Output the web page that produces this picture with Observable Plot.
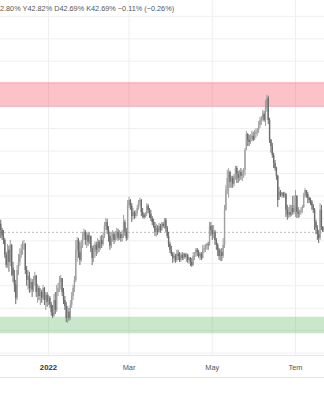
<!DOCTYPE html>
<html><head><meta charset="utf-8">
<script src="https://cdn.jsdelivr.net/npm/d3@7"></script>
<script src="https://cdn.jsdelivr.net/npm/@observablehq/plot@0.6"></script>
<style>
html,body{margin:0;padding:0;background:#fff;}
#wrap{position:relative;width:324px;height:400px;overflow:hidden;font-family:"Liberation Sans",Arial,sans-serif;}
#legend{position:absolute;top:5px;left:-9px;font-size:7.3px;line-height:8px;color:#555;white-space:nowrap;z-index:2;}
#chart{position:absolute;top:0;left:0;width:324px;border-bottom:1px solid #e6e6e6;}
#chart svg{display:block;}
</style></head><body>
<div id="wrap"><div id="chart"></div><div id="legend"></div></div>
<script>
// ---- data (daily candles) ----
const startDate = "2021-11-27";
const firstOpen = 42.87;
const closes = [
42.73,42.60,42.51,42.18,41.95,42.29,42.02,42.40,41.89,41.73,
41.51,41.22,41.84,42.02,42.18,42.29,42.40,42.42,41.84,41.62,
41.71,41.44,41.57,41.40,41.62,41.71,41.35,41.44,41.26,41.35,
41.22,41.44,41.17,41.29,41.13,41.22,41.08,40.91,40.82,41.17,
40.95,41.35,41.44,41.57,41.66,41.35,41.17,41.04,40.77,40.91,
40.77,41.06,41.26,41.44,41.62,42.29,42.51,42.24,42.06,42.40,
42.60,42.69,42.51,42.62,42.47,42.60,42.33,42.11,42.24,42.40,
42.29,42.47,42.33,42.51,42.42,42.60,42.82,42.91,42.73,42.60,
42.38,42.55,42.64,42.51,42.60,42.69,42.55,42.64,42.55,42.64,
42.91,42.69,42.55,43.29,43.40,43.27,43.04,43.13,43.04,43.11,
43.22,43.36,43.40,43.13,43.07,43.02,43.09,43.27,43.18,43.09,
43.00,42.91,42.82,42.69,42.78,42.69,42.82,42.73,42.87,42.82,
42.96,42.78,42.60,42.42,42.29,42.20,42.11,42.15,42.06,42.20,
42.15,42.06,42.18,42.11,42.20,42.13,42.18,42.06,42.11,42.02,
41.95,42.15,42.20,42.29,42.24,42.15,42.20,42.11,42.29,42.33,
42.38,42.42,42.40,42.82,42.73,42.64,42.69,42.51,42.40,42.29,
42.15,42.24,42.15,42.40,43.18,43.62,43.89,44.02,43.80,43.89,
43.76,43.94,44.11,43.98,43.89,44.02,43.94,43.98,44.07,44.51,
44.87,44.74,44.69,44.78,44.83,44.74,44.87,44.92,44.96,45.07,
45.18,45.23,45.32,45.18,45.45,45.67,45.18,44.74,44.60,44.40,
44.22,44.11,43.94,43.40,43.58,43.51,43.56,43.49,43.53,43.18,
43.07,43.13,43.07,43.22,43.13,43.29,43.49,43.13,43.09,43.13,
43.18,43.24,43.49,43.62,43.53,43.45,43.40,43.36,43.27,43.18,
42.91,42.78,42.64,42.55,43.18,42.80,42.69];
const highs = [
42.96,42.78,42.73,42.55,42.24,42.42,42.38,42.51,42.42,42.02,
41.84,41.62,41.95,42.20,42.33,42.42,42.49,42.51,42.44,41.93,
41.84,41.80,41.66,41.64,41.71,41.80,41.73,41.53,41.49,41.44,
41.40,41.51,41.46,41.35,41.35,41.29,41.26,41.13,41.06,41.31,
41.35,41.51,41.55,41.71,41.73,41.66,41.44,41.26,41.13,41.04,
41.00,41.17,41.35,41.51,41.71,42.51,42.58,42.55,42.47,42.51,
42.69,42.76,42.73,42.69,42.67,42.69,42.60,42.38,42.40,42.47,
42.47,42.55,42.51,42.60,42.62,42.69,42.91,43.00,42.98,42.82,
42.69,42.69,42.73,42.69,42.71,42.78,42.76,42.73,42.69,42.73,
43.07,42.96,42.78,43.40,43.47,43.42,43.33,43.22,43.16,43.18,
43.29,43.40,43.45,43.42,43.22,43.11,43.13,43.33,43.31,43.22,
43.18,43.04,42.98,42.91,42.87,42.84,42.89,42.87,42.91,42.91,
43.00,43.00,42.82,42.69,42.47,42.38,42.24,42.24,42.20,42.29,
42.29,42.24,42.22,42.24,42.22,42.22,42.22,42.20,42.13,42.13,
42.11,42.24,42.24,42.33,42.33,42.29,42.24,42.24,42.40,42.40,
42.42,42.44,42.47,42.91,42.91,42.84,42.84,42.73,42.55,42.44,
42.33,42.31,42.33,42.55,43.29,43.73,44.07,44.11,44.05,43.94,
43.94,43.98,44.16,44.16,44.05,44.07,44.11,44.07,44.11,44.56,
44.94,44.89,44.85,44.87,44.94,44.92,44.96,45.00,45.00,45.16,
45.25,45.27,45.41,45.38,45.63,45.74,45.72,45.23,44.76,44.67,
44.45,44.29,44.14,43.96,43.69,43.62,43.58,43.58,43.58,43.56,
43.29,43.24,43.29,43.29,43.49,43.51,43.62,43.51,43.24,43.18,
43.24,43.29,43.56,43.67,43.62,43.58,43.47,43.45,43.40,43.31,
43.22,42.96,42.84,42.73,43.33,43.29,42.82];
const lows = [
42.55,42.51,42.42,42.11,41.89,41.89,41.80,41.93,41.71,41.57,
41.35,41.08,41.17,41.73,41.93,42.11,42.18,42.29,41.75,41.49,
41.40,41.33,41.35,41.24,41.35,41.49,41.24,41.11,41.17,41.06,
41.11,41.17,41.06,40.95,41.02,41.06,41.00,40.82,40.77,40.80,
40.86,40.91,41.26,41.35,41.40,41.26,41.08,40.95,40.68,40.66,
40.71,40.73,41.00,41.17,41.35,41.57,42.02,42.11,41.95,42.02,
42.33,42.51,42.40,42.33,42.38,42.42,42.24,41.95,42.02,42.11,
42.15,42.20,42.24,42.29,42.33,42.38,42.55,42.73,42.64,42.47,
42.29,42.33,42.47,42.42,42.47,42.51,42.49,42.51,42.47,42.47,
42.55,42.60,42.49,42.51,43.22,43.18,42.91,42.96,42.98,43.00,
43.04,43.18,43.27,43.04,43.00,42.98,43.00,43.04,43.11,43.00,
42.93,42.84,42.78,42.60,42.58,42.62,42.67,42.67,42.71,42.78,
42.76,42.69,42.55,42.35,42.22,42.15,42.00,42.02,42.00,42.02,
42.06,42.02,42.02,42.06,42.06,42.09,42.02,42.00,41.98,41.93,
41.91,41.93,42.06,42.13,42.15,42.11,42.06,42.06,42.09,42.22,
42.24,42.29,42.29,42.38,42.60,42.51,42.55,42.40,42.29,42.15,
42.06,42.04,42.04,42.11,42.33,43.16,43.53,43.45,43.67,43.67,
43.67,43.71,43.85,43.78,43.78,43.82,43.85,43.82,43.89,43.94,
44.51,44.60,44.60,44.65,44.71,44.71,44.74,44.78,44.83,44.89,
45.00,45.07,45.16,45.14,45.05,45.36,45.09,44.67,44.45,44.34,
44.11,44.05,43.85,43.24,43.47,43.47,43.45,43.45,43.45,43.02,
42.96,43.00,43.02,43.04,43.07,43.09,43.02,43.00,43.00,43.02,
43.07,43.11,43.22,43.45,43.45,43.33,43.33,43.29,43.18,43.11,
42.73,42.64,42.51,42.44,42.51,42.73,42.69];

const resistanceZone = [45.47, 46.03];
const supportZone = [40.43, 40.80];
const tickDates = ["2022-01-01", "2022-03-01", "2022-05-01", "2022-07-01"];
const tickLabels = ["2022", "Mar", "May", "Tem"];
const yGridTicks = [40, 40.5, 41, 41.5, 42, 42.5, 43, 43.5, 44, 44.5, 45, 45.5, 46, 46.5, 47, 47.5];
const xDomain = ["2021-11-26T19:48:00Z", "2022-07-22T06:00:00Z"];
const yDomain = [39.947, 47.853];
const legendLetters = ["A", "Y", "D", "K"];

// ---- build table ----
const t0 = Date.parse(startDate + "T00:00:00Z");
const candles = closes.map((c, i) => {
  const open = i === 0 ? firstOpen : closes[i - 1];
  return {date: new Date(t0 + i * 864e5), open, high: highs[i], low: lows[i], close: c, up: c >= open};
});
const last = candles[candles.length - 1];
const chg = last.close - last.open;
const fmt = v => (v < 0 ? "\u2212" : "") + Math.abs(v).toFixed(2);
document.getElementById("legend").textContent =
  [last.open, last.high, last.low, last.close].map((v, i) => legendLetters[i] + v.toFixed(2) + "%").join(" ") +
  " " + fmt(chg) + "% (" + fmt(chg / last.open * 100) + "%)";

const upColor = "#a0a0a0", downColor = "#6c6c6c";
const tickD = tickDates.map(d => new Date(d + "T00:00:00Z"));
const upC = candles.filter(d => d.up), dnC = candles.filter(d => !d.up);

const chart = Plot.plot({
  width: 324, height: 377,
  marginTop: 0, marginRight: 0, marginBottom: 22, marginLeft: 0,
  style: {background: "transparent", fontFamily: "'Liberation Sans', Arial, sans-serif", overflow: "visible"},
  x: {type: "utc", domain: xDomain.map(d => new Date(d)), axis: null},
  y: {domain: yDomain, axis: null},
  marks: [
    Plot.gridY(yGridTicks, {stroke: "#efefef", strokeOpacity: 1}),
    Plot.gridX(tickD, {stroke: "#efefef", strokeOpacity: 1}),
    Plot.rect([resistanceZone], {y1: d => d[0], y2: d => d[1], fill: "#f23645", fillOpacity: 0.3}),
    Plot.rect([supportZone], {y1: d => d[0], y2: d => d[1], fill: "#4caf50", fillOpacity: 0.3}),
    Plot.ruleY([last.close], {stroke: "#a8a8a8", strokeDasharray: "2,2", strokeWidth: 0.8}),
    Plot.ruleX(upC, {x: "date", y1: "low", y2: "high", stroke: upColor, strokeWidth: 1}),
    Plot.ruleX(dnC, {x: "date", y1: "low", y2: "high", stroke: downColor, strokeWidth: 1}),
    Plot.ruleX(upC, {x: "date", y1: "open", y2: "close", stroke: upColor, strokeWidth: 1.4}),
    Plot.ruleX(dnC, {x: "date", y1: "open", y2: "close", stroke: downColor, strokeWidth: 1.4}),
    Plot.ruleY([yDomain[0]], {stroke: "#e6e6e6"}),
    Plot.text(tickD.slice(0, 1), {x: d => d, text: [tickLabels[0]], frameAnchor: "bottom", dy: 14, fontSize: 7.8, fontWeight: "bold", fill: "#333"}),
    Plot.text(tickD.slice(1), {x: d => d, text: tickLabels.slice(1), frameAnchor: "bottom", dy: 14, fontSize: 7.4, fill: "#555"})
  ]
});
document.getElementById("chart").appendChild(chart);
</script>
</body></html>
